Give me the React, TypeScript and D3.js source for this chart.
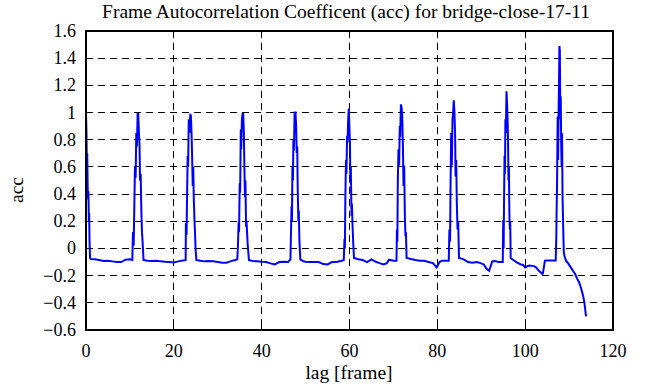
import React from "react";
import * as d3 from "d3";

const TITLE = "Frame Autocorrelation Coefficent (acc) for bridge-close-17-11";
const X_LABEL = "lag [frame]";
const Y_LABEL = "acc";
const xTicks = [0, 20, 40, 60, 80, 100, 120];
const yTicks = [-0.6, -0.4, -0.2, 0, 0.2, 0.4, 0.6, 0.8, 1, 1.2, 1.4, 1.6];

// lag values (frames)
const lag = [
  0, 0.12, 0.2, 0.28, 0.38, 0.48, 0.55, 0.65, 0.72, 0.8, 0.92, 1.1, 2, 3, 4, 5, 6, 7, 8, 9, 10, 10.55,
  10.7, 10.85, 10.95, 11.15, 11.3, 11.45, 11.6, 11.75, 11.9, 12.05, 12.2, 12.3, 12.45, 12.6, 12.75, 12.9, 13.1,
  14, 15, 16, 17, 18, 19, 20, 21, 22, 22.69,
  22.75, 22.9, 23.0, 23.15, 23.25, 23.4, 23.55, 23.75, 23.9, 24.05, 24.15, 24.3, 24.42, 24.55, 24.7, 24.82, 24.95, 25.12,
  26, 27, 28, 29, 30, 31, 32, 33, 34, 34.45,
  34.6, 34.75, 34.85, 35.0, 35.1, 35.25, 35.35, 35.5, 35.65, 35.8, 35.95, 36.05, 36.2, 36.3, 36.45, 36.55, 36.8, 37.1,
  38, 39, 40, 41, 42, 43, 44, 45, 46, 46.55,
  46.65, 46.8, 46.9, 47.0, 47.12, 47.22, 47.35, 47.5, 47.7, 47.85, 47.98, 48.1, 48.2, 48.35, 48.45, 48.6, 48.8,
  49.5, 50, 51, 52, 53, 54, 55, 56, 57, 58, 58.7,
  58.85, 58.95, 59.05, 59.2, 59.3, 59.45, 59.55, 59.7, 59.85, 59.95, 60.1, 60.2, 60.3, 60.45, 60.55, 60.7, 60.85, 61.02,
  62, 63, 64, 65, 66, 67, 67.8, 68.5, 69, 70, 70.7,
  70.8, 70.9, 71.0, 71.15, 71.3, 71.45, 71.55, 71.7, 71.85, 72.0, 72.15, 72.3, 72.45, 72.6, 72.75, 72.85, 73.0,
  74, 75, 76, 77, 78, 79, 79.85, 80.5, 81, 82, 82.6,
  82.75, 82.9, 83.0, 83.15, 83.3, 83.45, 83.6, 83.75, 83.9, 84.05, 84.15, 84.3, 84.45, 84.6, 84.75, 84.93,
  85.5, 86, 87, 88, 89, 90, 90.6, 91.2, 91.8, 92.5, 93, 94, 94.9,
  95.0, 95.1, 95.2, 95.3, 95.4, 95.5, 95.6, 95.75, 95.9, 96.0, 96.1, 96.2, 96.3, 96.4, 96.5, 96.6, 96.7,
  97.3, 98, 99, 99.5, 100, 100.5, 101, 102, 102.5, 103, 103.5, 104.0, 104.5, 105, 106, 106.95,
  107.1, 107.15, 107.25, 107.3, 107.4, 107.5, 107.6, 107.7, 107.8, 107.9, 108.0, 108.1, 108.2, 108.3, 108.4, 108.5, 108.6, 108.7, 108.8, 108.95,
  109.3, 109.8, 110.2, 110.6, 111.0, 111.4, 111.8, 112.3, 112.8, 113.2, 113.5, 113.85,
];

// autocorrelation coefficient values
const acc = [
  1.0, 0.84, 0.55, 0.7, 0.45, 0.36, 0.42, 0.2, 0.26, 0.06, -0.07, -0.078, -0.08, -0.085, -0.093, -0.09, -0.095, -0.1, -0.1, -0.083, -0.08, -0.085,
  0.12, 0.02, 0.2, 0.6, 0.52, 0.85, 0.75, 0.99, 0.99, 0.85, 0.75, 0.5, 0.55, 0.28, 0.12, 0.04, -0.085,
  -0.09, -0.093, -0.09, -0.095, -0.098, -0.1, -0.103, -0.095, -0.088, -0.086,
  0.19, 0.1, 0.36, 0.68, 0.6, 0.95, 0.85, 0.99, 0.97, 0.83, 0.7, 0.46, 0.6, 0.36, 0.21, 0.12, 0.0, -0.085,
  -0.09, -0.095, -0.093, -0.095, -0.1, -0.105, -0.105, -0.093, -0.085, -0.08,
  0.02, 0.19, 0.12, 0.48, 0.41, 0.875, 0.73, 0.95, 0.99, 0.99, 0.85, 0.63, 0.38, 0.5, 0.16, 0.2, 0.04, -0.086,
  -0.093, -0.095, -0.098, -0.1, -0.11, -0.118, -0.1, -0.098, -0.1, -0.08,
  0.07, 0.31, 0.2, 0.6, 0.5, 0.8, 0.72, 1.0, 1.0, 0.9, 0.7, 0.75, 0.46, 0.2, 0.28, 0.05, -0.08,
  -0.095, -0.097, -0.1, -0.1, -0.1, -0.115, -0.118, -0.1, -0.1, -0.093, -0.085,
  0.07, 0.0, 0.36, 0.65, 0.55, 0.83, 0.78, 0.95, 1.03, 0.92, 0.78, 0.48, 0.6, 0.24, 0.33, 0.16, 0.04, -0.07,
  -0.08, -0.085, -0.1, -0.08, -0.098, -0.11, -0.118, -0.108, -0.083, -0.09, -0.09,
  0.14, 0.05, 0.49, 0.73, 0.61, 0.9, 0.82, 1.06, 1.04, 0.98, 0.78, 0.46, 0.61, 0.24, 0.09, 0.12, -0.07,
  -0.078, -0.085, -0.09, -0.09, -0.1, -0.108, -0.14, -0.1, -0.09, -0.09, -0.09,
  0.14, 0.05, 0.44, 0.85, 0.61, 0.95, 1.0, 1.09, 1.0, 0.83, 0.53, 0.65, 0.31, 0.14, 0.2, -0.07,
  -0.075, -0.08, -0.1, -0.105, -0.1, -0.11, -0.118, -0.15, -0.165, -0.095, -0.093, -0.1, -0.1,
  0.21, 0.0, 0.38, 0.68, 0.55, 0.95, 0.85, 1.157, 1.05, 0.95, 0.8, 0.5, 0.6, 0.26, 0.14, 0.2, -0.07,
  -0.085, -0.1, -0.118, -0.12, -0.14, -0.13, -0.125, -0.13, -0.14, -0.16, -0.175, -0.19, -0.09, -0.088, -0.088, -0.088,
  0.1, 0.26, 0.45, 0.6, 0.97, 0.65, 0.97, 1.2, 1.49, 1.45, 0.95, 1.12, 0.78, 0.6, 0.85, 0.41, 0.24, 0.1, -0.03, -0.056,
  -0.09, -0.11, -0.13, -0.15, -0.17, -0.19, -0.22, -0.25, -0.3, -0.35, -0.4, -0.5,
];

const W = 666;
const H = 387;
const M = { left: 86, right: 613, top: 31, bottom: 330 };
const FONT = "'Liberation Serif', 'Times New Roman', serif";

export default function App() {
  const x = d3.scaleLinear().domain([0, 120]).range([M.left, M.right]);
  const y = d3.scaleLinear().domain([-0.6, 1.6]).range([M.bottom, M.top]);
  const pts: [number, number][] = lag.map((l, i) => [l, acc[i]]);
  const line = d3
    .line<[number, number]>()
    .x((d) => x(d[0]))
    .y((d) => y(d[1]));
  const tick = 6;

  return (
    <svg
      width={W}
      height={H}
      style={{ position: "absolute", left: 0, top: 0, background: "#fff" }}
      fontFamily={FONT}
    >
      <rect x={0} y={0} width={W} height={H} fill="#fff" />
      {/* grid */}
      <g stroke="#000" strokeWidth={1} strokeDasharray="7,5" shapeRendering="crispEdges">
        {xTicks.slice(1, -1).map((t) => (
          <line key={"gx" + t} x1={x(t)} x2={x(t)} y1={M.top} y2={M.bottom} />
        ))}
        {yTicks.slice(1, -1).map((t) => (
          <line key={"gy" + t} x1={M.left} x2={M.right} y1={y(t)} y2={y(t)} />
        ))}
      </g>
      {/* ticks */}
      <g stroke="#000" strokeWidth={1} shapeRendering="crispEdges">
        {xTicks.map((t) => (
          <g key={"tx" + t}>
            <line x1={x(t)} x2={x(t)} y1={M.bottom} y2={M.bottom - tick} />
            <line x1={x(t)} x2={x(t)} y1={M.top} y2={M.top + tick} />
          </g>
        ))}
        {yTicks.map((t) => (
          <g key={"ty" + t}>
            <line x1={M.left} x2={M.left + tick} y1={y(t)} y2={y(t)} />
            <line x1={M.right} x2={M.right - tick} y1={y(t)} y2={y(t)} />
          </g>
        ))}
      </g>
      {/* data */}
      <path
        d={line(pts) || ""}
        fill="none"
        stroke="#0000ff"
        strokeWidth={2}
        strokeLinejoin="miter"
        strokeMiterlimit={2}
      />
      {/* border */}
      <rect
        x={M.left}
        y={M.top}
        width={M.right - M.left}
        height={M.bottom - M.top}
        fill="none"
        stroke="#000"
        strokeWidth={2}
        shapeRendering="crispEdges"
      />
      {/* tick labels */}
      <g fontSize={18} fill="#000">
        {xTicks.map((t) => (
          <text key={"lx" + t} x={x(t)} y={M.bottom + 27} textAnchor="middle">
            {d3.format("")(t)}
          </text>
        ))}
        {yTicks.map((t) => (
          <text key={"ly" + t} x={M.left - 10} y={y(t) + 6} textAnchor="end">
            {d3.format("")(Math.round(t * 10) / 10)}
          </text>
        ))}
      </g>
      <text x={346} y={18} textAnchor="middle" fontSize={19.5} fill="#000">
        {TITLE}
      </text>
      <text x={349} y={379} textAnchor="middle" fontSize={19.5} fill="#000">
        {X_LABEL}
      </text>
      <text
        transform={`translate(23,190) rotate(-90)`}
        textAnchor="middle"
        fontSize={19.5}
        fill="#000"
      >
        {Y_LABEL}
      </text>
    </svg>
  );
}
